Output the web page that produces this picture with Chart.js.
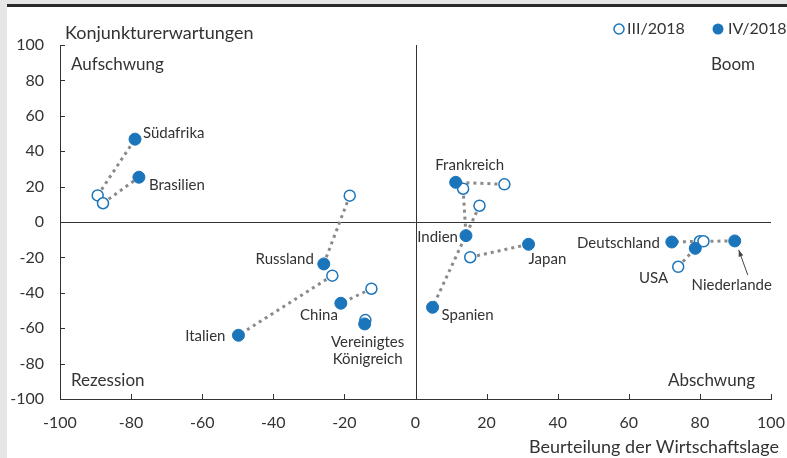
<!DOCTYPE html>
<html>
<head>
<meta charset="utf-8">
<script src="https://cdn.jsdelivr.net/npm/chart.js@4"></script>
<style>
  html, body { margin: 0; padding: 0; background: #fff; }
  #wrap { width: 787px; height: 458px; position: relative; }
</style>
</head>
<body>
<div id="wrap"><canvas id="konjunkturChart"></canvas></div>
<script>
// Länder und Werte (x = Beurteilung der Wirtschaftslage, y = Konjunkturerwartungen)
const countries = ['Südafrika', 'Brasilien', 'Russland', 'Italien', 'China', 'Vereinigtes Königreich',
  'Frankreich', 'Spanien', 'Indien', 'Japan', 'Deutschland', 'Niederlande', 'USA'];
const q3X = [-89.4, -87.9, -18.5, -23.4, -12.4, -14.1, 25.0, 18.0, 13.4, 15.4, 80.0, 81.0, 73.9];
const q3Y = [15.0, 10.6, 14.9, -30.3, -37.7, -55.4, 21.3, 9.2, 18.8, -19.9, -10.9, -10.9, -25.3];
const q4X = [-78.9, -77.8, -25.8, -49.8, -21.0, -14.3, 11.3, 4.8, 14.2, 31.8, 72.1, 89.8, 78.7];
const q4Y = [46.8, 25.3, -23.7, -64.0, -45.9, -57.6, 22.4, -48.2, -7.7, -12.6, -11.3, -10.7, -14.9];
const seriesNames = ['III/2018', 'IV/2018'];
const axisTicks = [-100, -80, -60, -40, -20, 0, 20, 40, 60, 80, 100];

// Beschriftungen: Versatz relativ zum IV/2018-Punkt (bzw. III bei USA)
const labelPlacement = [
  { dx: 8, dy: -6, align: 'left' },
  { dx: 10, dy: 8, align: 'left' },
  { dx: -10, dy: -5, align: 'right' },
  { dx: -13, dy: 1, align: 'right' },
  { dx: -3, dy: 12, align: 'right' },
  { dx: 3, dy: 18, align: 'center' },
  { dx: 14, dy: -17, align: 'center' },
  { dx: 9, dy: 8, align: 'left' },
  { dx: -8, dy: 2, align: 'right' },
  { dx: 0, dy: 15, align: 'left' },
  { dx: -12, dy: 1, align: 'right' },
  { dx: -3, dy: 44, align: 'center' },
  { dx: -10, dy: 11, align: 'right', fromQ3: true }
];

const BLUE = '#1b75bb';
const TEXT = '#333333';
const FONT = 'Lato';

const lineSets = countries.map((c, i) => ({
  label: c,
  data: [{ x: q3X[i], y: q3Y[i] }, { x: q4X[i], y: q4Y[i] }],
  showLine: true,
  borderColor: '#8a8a8a',
  borderWidth: 3,
  borderDash: [3, 4],
  pointRadius: 0,
  order: 3
}));

const q3Set = {
  label: seriesNames[0],
  data: countries.map((c, i) => ({ x: q3X[i], y: q3Y[i] })),
  pointRadius: 5.5,
  pointBackgroundColor: '#ffffff',
  pointBorderColor: BLUE,
  pointBorderWidth: 1.5,
  order: 2
};
const q4Set = {
  label: seriesNames[1],
  data: countries.map((c, i) => ({ x: q4X[i], y: q4Y[i] })),
  pointRadius: 6,
  pointBackgroundColor: BLUE,
  pointBorderColor: BLUE,
  pointBorderWidth: 1,
  order: 1
};

// Zusatzzeichnung: Hintergrund, Achsenkreuz, Innenticks, Texte
const extras = {
  id: 'extras',
  beforeDraw(chart) {
    const ctx = chart.ctx;
    ctx.save();
    ctx.fillStyle = '#ffffff';
    ctx.fillRect(0, 0, chart.width, chart.height);
    ctx.fillStyle = '#e6e6e6';
    ctx.fillRect(0, 0, 7, chart.height);
    ctx.fillRect(0, 0, chart.width, 4);
    ctx.fillStyle = '#2b2b2b';
    ctx.fillRect(7, 4, chart.width - 7, 3);
    ctx.restore();
  },
  beforeDatasetsDraw(chart) {
    const ctx = chart.ctx;
    const xs = chart.scales.x, ys = chart.scales.y;
    const a = chart.chartArea;
    ctx.save();
    ctx.strokeStyle = '#333';
    ctx.lineWidth = 1;
    const x0 = Math.round(xs.getPixelForValue(0)) + 0.5;
    const y0 = Math.round(ys.getPixelForValue(0)) + 0.5;
    ctx.beginPath();
    ctx.moveTo(x0, a.top); ctx.lineTo(x0, a.bottom);
    ctx.moveTo(a.left, y0); ctx.lineTo(a.right, y0);
    axisTicks.forEach(v => {
      const py = Math.round(ys.getPixelForValue(v)) + 0.5;
      ctx.moveTo(a.left, py); ctx.lineTo(a.left + 5, py);
      const px = Math.round(xs.getPixelForValue(v)) + 0.5;
      ctx.moveTo(px, a.bottom); ctx.lineTo(px, a.bottom - 5);
    });
    ctx.stroke();
    ctx.restore();
  },
  afterDraw(chart) {
    const ctx = chart.ctx;
    const xs = chart.scales.x, ys = chart.scales.y;
    const a = chart.chartArea;
    ctx.save();
    ctx.fillStyle = TEXT;
    ctx.textBaseline = 'middle';

    // Achsentitel
    ctx.font = '18px ' + FONT;
    ctx.textAlign = 'left';
    ctx.fillText('Konjunkturerwartungen', a.left + 5, 33);
    ctx.textAlign = 'right';
    ctx.fillText('Beurteilung der Wirtschaftslage', 779, 447);

    // Quadranten
    ctx.font = '17px ' + FONT;
    ctx.textAlign = 'left';
    ctx.fillText('Aufschwung', a.left + 11, 65);
    ctx.fillText('Rezession', a.left + 11, 381);
    ctx.textAlign = 'right';
    ctx.fillText('Boom', a.right - 16, 65);
    ctx.fillText('Abschwung', a.right - 16, 381);

    // Legende
    ctx.font = '16px ' + FONT;
    ctx.lineWidth = 1.5;
    ctx.strokeStyle = BLUE;
    ctx.fillStyle = '#fff';
    ctx.beginPath(); ctx.arc(619, 29, 5, 0, Math.PI * 2); ctx.fill(); ctx.stroke();
    ctx.fillStyle = BLUE;
    ctx.beginPath(); ctx.arc(718, 29, 5.5, 0, Math.PI * 2); ctx.fill();
    ctx.fillStyle = TEXT;
    ctx.textAlign = 'left';
    ctx.fillText(seriesNames[0], 627, 29);
    ctx.fillText(seriesNames[1], 728, 29);

    // Länderbeschriftungen
    ctx.font = '15px ' + FONT;
    countries.forEach((c, i) => {
      const p = labelPlacement[i];
      const px = xs.getPixelForValue(p.fromQ3 ? q3X[i] : q4X[i]);
      const py = ys.getPixelForValue(p.fromQ3 ? q3Y[i] : q4Y[i]);
      ctx.textAlign = p.align;
      const lines = c === 'Vereinigtes Königreich' ? ['Vereinigtes', 'Königreich'] : [c];
      lines.forEach((t, k) => ctx.fillText(t, px + p.dx, py + p.dy + k * 17));
      if (c === 'Niederlande') {
        const sx = px + 13, sy = py + 34, ex = px + 4, ey = py + 9;
        ctx.strokeStyle = '#444';
        ctx.lineWidth = 1;
        ctx.beginPath(); ctx.moveTo(sx, sy); ctx.lineTo(ex, ey); ctx.stroke();
        const ang = Math.atan2(ey - sy, ex - sx);
        ctx.fillStyle = '#444';
        ctx.beginPath();
        ctx.moveTo(ex, ey);
        ctx.lineTo(ex - 7 * Math.cos(ang - 0.35), ey - 7 * Math.sin(ang - 0.35));
        ctx.lineTo(ex - 7 * Math.cos(ang + 0.35), ey - 7 * Math.sin(ang + 0.35));
        ctx.closePath(); ctx.fill();
        ctx.fillStyle = TEXT;
      }
    });
    ctx.restore();
  }
};

document.addEventListener('DOMContentLoaded', function() {
  const ctx = document.getElementById('konjunkturChart').getContext('2d');
  new Chart(ctx, {
    type: 'scatter',
    data: { datasets: [...lineSets, q3Set, q4Set] },
    options: {
      responsive: true,
      maintainAspectRatio: false,
      animation: false,
      layout: { padding: { top: 45, right: 0, left: 0, bottom: 0 } },
      plugins: { legend: { display: false }, tooltip: { enabled: false } },
      scales: {
        x: {
          min: -100, max: 100,
          grid: { display: false, drawTicks: false },
          border: { display: true, color: '#333', width: 1 },
          ticks: { stepSize: 20, color: TEXT, padding: 14, maxRotation: 0, font: { family: FONT, size: 16 } },
          afterFit: s => { s.height = 59; s.paddingRight = 16; }
        },
        y: {
          min: -100, max: 100,
          grid: { display: false, drawTicks: false },
          border: { display: true, color: '#333', width: 1 },
          ticks: { stepSize: 20, color: TEXT, padding: 16, font: { family: FONT, size: 16 } },
          afterFit: s => { s.width = 60; }
        }
      }
    },
    plugins: [extras]
  });
});
</script>
</body>
</html>
